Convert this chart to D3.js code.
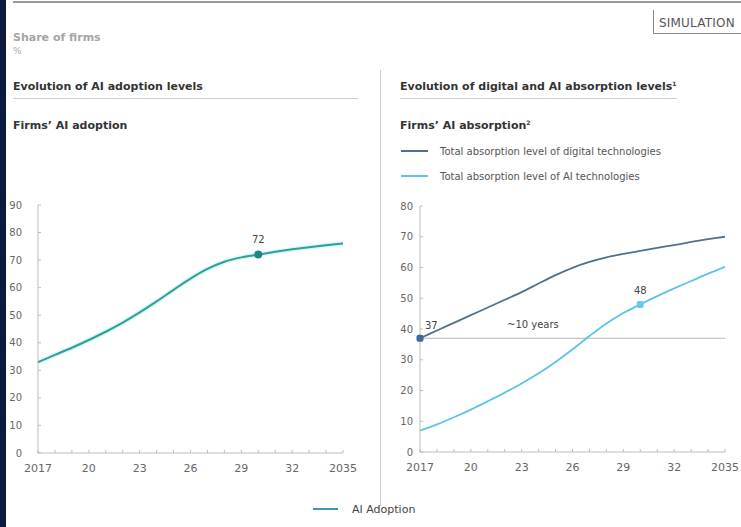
<!DOCTYPE html>
<html><head><meta charset="utf-8">
<script src="https://cdn.jsdelivr.net/npm/d3@7"></script>
<style>
html,body{margin:0;padding:0;background:#fff;}
svg{display:block;font-family:"DejaVu Sans",sans-serif;}
</style></head>
<body>
<svg id="c" width="741" height="527"></svg>
<script>
// ---- data ----
const years = [2017,2018,2019,2020,2021,2022,2023,2024,2025,2026,2027,2028,2029,2030,2031,2032,2033,2034,2035];
const aiAdoption = [33,35.6,38.2,41,44,47.3,51,55,59.2,63.3,66.8,69.4,71,72,73,73.9,74.7,75.4,76];
const digitalAbsorption = [37,39.5,42,44.5,47,49.5,52,54.8,57.5,59.9,61.8,63.3,64.4,65.4,66.4,67.3,68.3,69.2,70];
const aiAbsorption = [7,9,11.3,13.8,16.5,19.3,22.3,25.6,29.3,33.4,37.7,41.8,45.2,48,50.7,53.2,55.6,58,60.2];
const xTickYears = [2017,2020,2023,2026,2029,2032,2035];
const xTickLabels = ["2017","20","23","26","29","32","2035"];
const leftYTicks = [0,10,20,30,40,50,60,70,80,90];
const rightYTicks = [0,10,20,30,40,50,60,70,80];
const leftHighlight = {year:2030, value:72, label:"72"};
const rightStart = {year:2017, value:37, label:"37"};
const rightHighlight = {year:2030, value:48, label:"48"};
const gapLabel = "~10 years";
const legendRight = ["Total absorption level of digital technologies","Total absorption level of AI technologies"];
const legendBottom = "AI Adoption";

const svg = d3.select("#c");
const C = {teal:"#2e9e9b", tealDot:"#23857f", dig:"#4f7190", ai:"#5cc4e6", axis:"#bdbdbd", tick:"#666", title:"#333"};

// frame
svg.append("rect").attr("x",0).attr("y",0).attr("width",6).attr("height",527).attr("fill","#0c1a40");
svg.append("line").attr("x1",13).attr("x2",741).attr("y1",2).attr("y2",2).attr("stroke","#9a9a9a").attr("stroke-width",2);
// simulation box
svg.append("path").attr("d","M653.5,10 V33.5 H741").attr("fill","none").attr("stroke","#888").attr("stroke-width",1);
svg.append("text").attr("x",659).attr("y",27).attr("font-size",12).attr("letter-spacing",0.2).attr("fill","#555").text("SIMULATION");

// header texts
svg.append("text").attr("x",13).attr("y",41).attr("font-size",11).attr("font-weight","bold").attr("fill","#a5a5a5").text("Share of firms");
svg.append("text").attr("x",13).attr("y",54).attr("font-size",9).attr("fill","#aaa").text("%");

svg.append("text").attr("x",13).attr("y",90).attr("font-size",11).attr("font-weight","bold").attr("fill",C.title).text("Evolution of AI adoption levels");
svg.append("line").attr("x1",13).attr("x2",358).attr("y1",98.5).attr("y2",98.5).attr("stroke","#ccc");
svg.append("text").attr("x",13).attr("y",129).attr("font-size",11).attr("font-weight","bold").attr("fill",C.title).text("Firms’ AI adoption");

const t2 = svg.append("text").attr("x",400).attr("y",90).attr("font-size",11).attr("font-weight","bold").attr("fill",C.title);
t2.append("tspan").text("Evolution of digital and AI absorption levels");
t2.append("tspan").attr("dy",-4).attr("font-size",6).text("1");
svg.append("line").attr("x1",400).attr("x2",677).attr("y1",98.5).attr("y2",98.5).attr("stroke","#ccc");
const t3 = svg.append("text").attr("x",400).attr("y",129).attr("font-size",11).attr("font-weight","bold").attr("fill",C.title);
t3.append("tspan").text("Firms’ AI absorption");
t3.append("tspan").attr("dy",-4).attr("font-size",6).text("2");

// divider
svg.append("line").attr("x1",380.5).attr("x2",380.5).attr("y1",70).attr("y2",506).attr("stroke","#ccc");

// right legend
[[C.dig,legendRight[0],151],[C.ai,legendRight[1],176]].forEach(([col,txt,y])=>{
  svg.append("line").attr("x1",401).attr("x2",428).attr("y1",y).attr("y2",y).attr("stroke",col).attr("stroke-width",2);
  svg.append("text").attr("x",440).attr("y",y+3.5).attr("font-size",10).attr("fill","#555").text(txt);
});

// bottom legend
svg.append("line").attr("x1",313).attr("x2",338).attr("y1",509).attr("y2",509).attr("stroke","#3f95b0").attr("stroke-width",2);
svg.append("text").attr("x",352).attr("y",513).attr("font-size",11).attr("fill","#444").text(legendBottom);

function drawAxes(g, x, y, yTicks, yLabelEnd){
  const [x0,x1] = x.range();
  const [y0] = y.range();
  const yTop = y(d3.max(yTicks));
  g.append("line").attr("x1",x0).attr("x2",x0).attr("y1",yTop).attr("y2",y0).attr("stroke",C.axis);
  g.selectAll(".yt").data(yTicks).join("line").attr("x1",x0).attr("x2",x0+3).attr("y1",d=>y(d)).attr("y2",d=>y(d)).attr("stroke",C.axis);
  g.selectAll(".yl").data(yTicks).join("text").attr("x",yLabelEnd).attr("y",d=>y(d)+3.5).attr("text-anchor","end")
    .attr("font-size",10).attr("fill",C.tick).text(d=>d);
  g.append("line").attr("x1",x0).attr("x2",x1).attr("y1",y0).attr("y2",y0).attr("stroke",C.axis);
  g.selectAll(".xt").data(years).join("line").attr("x1",d=>x(d)).attr("x2",d=>x(d)).attr("y1",y0).attr("y2",y0-3).attr("stroke",C.axis);
  g.selectAll(".xl").data(xTickYears).join("text").attr("x",d=>x(d)).attr("y",y0+19).attr("text-anchor","middle")
    .attr("font-size",11).attr("fill",C.tick).text((d,i)=>xTickLabels[i]);
}

// left chart
const xL = d3.scaleLinear().domain([2017,2035]).range([38,343]);
const yL = d3.scaleLinear().domain([0,90]).range([453,205]);
const gL = svg.append("g");
drawAxes(gL, xL, yL, leftYTicks, 22);
const lineL = d3.line().x((d,i)=>xL(years[i])).y(d=>yL(d)).curve(d3.curveCatmullRom.alpha(0.5));
gL.append("path").attr("d",lineL(aiAdoption)).attr("fill","none").attr("stroke","#c6f2f0").attr("stroke-width",5).attr("opacity",0.6);
gL.append("path").attr("d",lineL(aiAdoption)).attr("fill","none").attr("stroke",C.teal).attr("stroke-width",2);
gL.append("circle").attr("cx",xL(leftHighlight.year)).attr("cy",yL(leftHighlight.value)).attr("r",4).attr("fill",C.tealDot);
gL.append("text").attr("x",xL(leftHighlight.year)).attr("y",yL(leftHighlight.value)-12).attr("text-anchor","middle")
  .attr("font-size",10).attr("fill","#444").text(leftHighlight.label);

// right chart
const xR = d3.scaleLinear().domain([2017,2035]).range([420,725]);
const yR = d3.scaleLinear().domain([0,80]).range([452,206]);
const gR = svg.append("g");
drawAxes(gR, xR, yR, rightYTicks, 413);
gR.append("line").attr("x1",xR(2017)).attr("x2",xR(2035)).attr("y1",yR(rightStart.value)).attr("y2",yR(rightStart.value))
  .attr("stroke","#b5b5b5").attr("stroke-width",1.2);
gR.append("text").attr("x",507).attr("y",yR(rightStart.value)-10).attr("font-size",10).attr("fill","#444").text(gapLabel);
const lineR = d3.line().x((d,i)=>xR(years[i])).y(d=>yR(d)).curve(d3.curveCatmullRom.alpha(0.5));
gR.append("path").attr("d",lineR(digitalAbsorption)).attr("fill","none").attr("stroke",C.dig).attr("stroke-width",1.8);
gR.append("path").attr("d",lineR(aiAbsorption)).attr("fill","none").attr("stroke",C.ai).attr("stroke-width",1.8);
gR.append("rect").attr("x",xR(rightStart.year)-3.5).attr("y",yR(rightStart.value)-3.5).attr("width",7).attr("height",7).attr("rx",2).attr("fill","#3d6a99");
gR.append("text").attr("x",xR(rightStart.year)+5).attr("y",yR(rightStart.value)-9).attr("font-size",10).attr("fill","#444").text(rightStart.label);
gR.append("rect").attr("x",xR(rightHighlight.year)-3.5).attr("y",yR(rightHighlight.value)-3.5).attr("width",7).attr("height",7).attr("rx",2).attr("fill","#6ac8ec");
gR.append("text").attr("x",xR(rightHighlight.year)).attr("y",yR(rightHighlight.value)-10).attr("text-anchor","middle").attr("font-size",10).attr("fill","#444").text(rightHighlight.label);
</script>
</body></html>
